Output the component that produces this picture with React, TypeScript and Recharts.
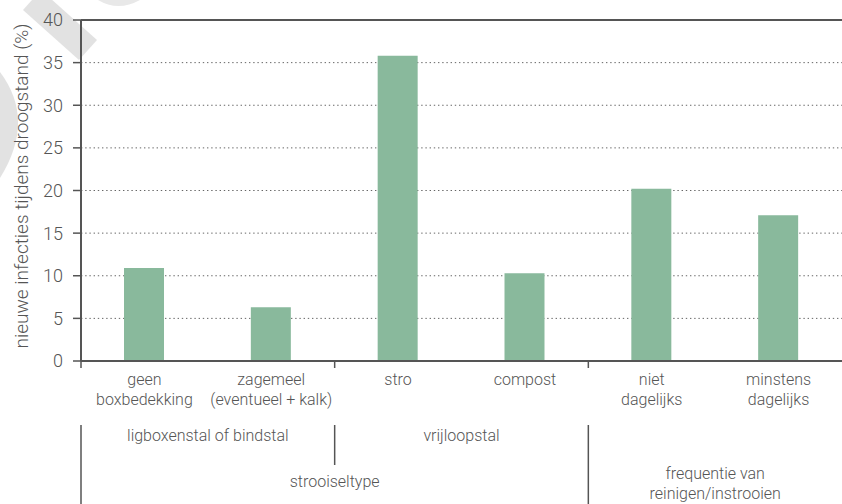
import React from 'react';
import { BarChart, Bar, XAxis, YAxis, CartesianGrid, ReferenceLine } from 'recharts';

const categories = [
  'geen\nboxbedekking',
  'zagemeel\n(eventueel + kalk)',
  'stro',
  'compost',
  'niet\ndagelijks',
  'minstens\ndagelijks',
];
const values = [10.9, 6.3, 35.8, 10.3, 20.2, 17.1];
const yTicks = [0, 5, 10, 15, 20, 25, 30, 35, 40];
const yLabel = 'nieuwe infecties tijdens droogstand (%)';

const subGroups = [
  { label: 'ligboxenstal of bindstal', start: 0, span: 2 },
  { label: 'vrijloopstal', start: 2, span: 2 },
];
const mainGroups = [
  { label: ['strooiseltype'], start: 0, span: 4 },
  { label: ['frequentie van', 'reinigen/instrooien'], start: 4, span: 2 },
];

const data = categories.map((c, i) => ({ name: c, value: values[i] }));

const TEXT = '#555555';
const AXIS = '#555555';
const FONT = 'Roboto, "DejaVu Sans", sans-serif';
const FW = 300;

const XTick = (props: any) => {
  const { x, y, payload, width } = props;
  const i: number = payload.index ?? categories.indexOf(payload.value);
  const half: number = payload.offset || width / (2 * categories.length);
  const band = half * 2;
  const left = x - half;
  const lines = String(payload.value).split('\n');
  const isMain = mainGroups.some((g) => g.start === i);
  const isSub = subGroups.some((g) => g.start === i);
  const els: any[] = [];
  lines.forEach((l, k) => {
    els.push(
      <text key={'c' + k} x={x} y={y + 24 + k * 20} textAnchor="middle" fill={TEXT} fontSize={16} fontWeight={FW} fontFamily={FONT}>
        {l}
      </text>
    );
  });
  if (isMain || isSub) {
    els.push(<line key="tk" x1={left} x2={left} y1={y} y2={y + 7} stroke={AXIS} strokeWidth={1.5} />);
    els.push(
      <line key="gl" x1={left} x2={left} y1={y + 64} y2={isMain ? y + 150 : y + 104} stroke={AXIS} strokeWidth={1.5} />
    );
  }
  subGroups
    .filter((g) => g.start === i)
    .forEach((g) => {
      els.push(
        <text key="sg" x={left + (g.span * band) / 2} y={y + 80} textAnchor="middle" fill={TEXT} fontSize={16} fontWeight={FW} fontFamily={FONT}>
          {g.label}
        </text>
      );
    });
  mainGroups
    .filter((g) => g.start === i)
    .forEach((g) => {
      const base = g.label.length > 1 ? y + 118 : y + 126;
      g.label.forEach((l, k) => {
        els.push(
          <text key={'mg' + k} x={left + (g.span * band) / 2} y={base + k * 20} textAnchor="middle" fill={TEXT} fontSize={16} fontWeight={FW} fontFamily={FONT}>
            {l}
          </text>
        );
      });
    });
  return <g>{els}</g>;
};

export default function App() {
  return (
    <div style={{ position: 'absolute', left: 0, top: 0, width: 842, height: 504, background: '#fff' }}>
      <svg width={842} height={504} style={{ position: 'absolute', left: 0, top: 0 }}>
        <polygon points="41,-10 97,40 79,60 23,10" fill="#e2e2e2" />
        <path d="M 0 72 Q 36 120 0 178 Z" fill="#e2e2e2" />
        <path d="M 98 0 Q 118 12 140 0 Z" fill="#e8e8e8" />
      </svg>
      <div style={{ position: 'absolute', left: 0, top: 0 }}>
        <BarChart width={842} height={504} data={data} margin={{ top: 20, right: 0, bottom: 0, left: 0 }}>
          <CartesianGrid vertical={false} stroke="#666" strokeDasharray="1.4 2.8" />
          <XAxis
            dataKey="name"
            height={143}
            interval={0}
            tickLine={false}
            tickSize={0}
            tickMargin={0}
            axisLine={{ stroke: AXIS, strokeWidth: 2 }}
            tick={<XTick />}
          />
          <YAxis
            width={81}
            domain={[0, 40]}
            ticks={yTicks}
            interval={0}
            tickSize={8}
            tickMargin={10}
            axisLine={{ stroke: AXIS, strokeWidth: 2 }}
            tickLine={{ stroke: AXIS, strokeWidth: 1.5 }}
            tick={{ fill: TEXT, fontSize: 18, fontWeight: FW, fontFamily: FONT }}
          />
          <ReferenceLine y={40} stroke={AXIS} strokeWidth={2} />
          <Bar dataKey="value" fill="#89b99c" barSize={40} isAnimationActive={false} />
        </BarChart>
      </div>
      <svg width={842} height={504} style={{ position: 'absolute', left: 0, top: 0, pointerEvents: 'none' }}>
        <text x={28} y={186} transform="rotate(-90 28 186)" textAnchor="middle" fill={TEXT} fontSize={19} fontWeight={FW} fontFamily={FONT}>
          {yLabel}
        </text>
      </svg>
    </div>
  );
}
